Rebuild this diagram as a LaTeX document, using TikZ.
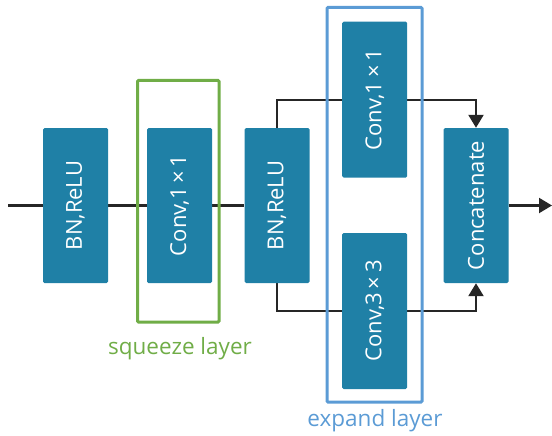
\documentclass[tikz,border=0pt]{standalone}
\usepackage{fontspec}
\setmainfont{Open Sans}
\usetikzlibrary{arrows.meta,backgrounds}
\definecolor{boxc}{RGB}{31,128,166}
\definecolor{greenc}{RGB}{112,173,71}
\definecolor{bluec}{RGB}{91,155,213}
\definecolor{linec}{RGB}{38,38,38}
\begin{document}
\begin{tikzpicture}[x=1pt,y=-1pt,
  blk/.style={fill=boxc,rounded corners=1.5pt,minimum height=65pt,inner sep=0pt,
    text=white,font=\fontsize{22}{26}\selectfont,rotate=90},
  conn/.style={draw=linec,line width=2.2pt},
  arr/.style={conn,-{Triangle[length=13pt,width=15pt]}},
  frame/.style={line width=3pt,rounded corners=1pt},
  lbl/.style={font=\fontsize{22.5}{26}\selectfont}]
\useasboundingbox (0,0) rectangle (552,436);
% blocks
\node[blk,minimum width=155pt] (bn1) at (75.5,205.5) {BN,ReLU};
\node[blk,minimum width=155pt] (sq) at (179.5,205.5) {Conv,1\,×\,1};
\node[blk,minimum width=155pt] (bn2) at (277,205.5) {BN,ReLU};
\node[blk,minimum width=156pt] (e1) at (374.7,99.7) {Conv,1\,×\,1};
\node[blk,minimum width=156pt] (e3) at (374.7,311) {Conv,3\,×\,3};
\node[blk,minimum width=155pt] (cat) at (476,205.5) {Concatenate};
\coordinate (in) at (8,205.5);
\coordinate (out) at (552,205.5);
\begin{scope}[on background layer]
% connectors
\draw[conn] (in) -- (bn1.north);
\draw[conn] (bn1.south) -- (sq.north);
\draw[conn] (sq.south) -- (bn2.north);
\draw[arr] (bn2.east) |- (e1.center) -| (cat.east);
\draw[arr] (bn2.west) |- (e3.center) -| (cat.west);
\draw[arr] (cat.south) -- (out);
% frames
\draw[frame,draw=greenc] (137.5,80.5) rectangle (219,322);
\draw[frame,draw=bluec] (327,7.5) rectangle (422,402);
\end{scope}
% labels
\node[lbl,text=greenc] (sql) at (180,349) {squeeze layer};
\node[lbl,text=bluec] (exl) at (375,421) {expand layer};
\end{tikzpicture}
\end{document}
